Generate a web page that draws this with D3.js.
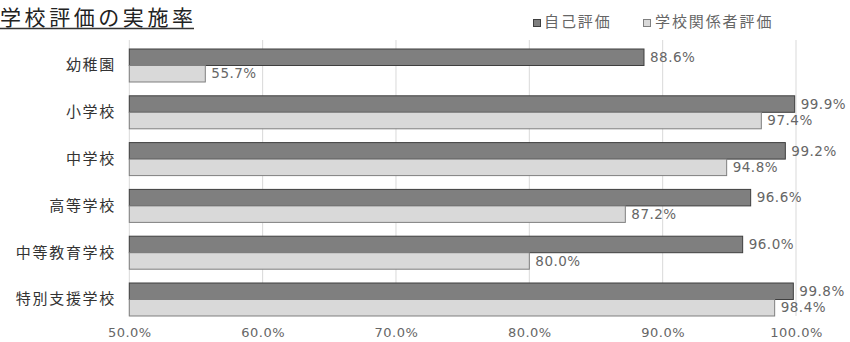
<!DOCTYPE html>
<html><head><meta charset="utf-8">
<script src="https://cdn.jsdelivr.net/npm/d3@7"></script>
<style>body{margin:0;background:#fff;}svg{display:block;}</style>
</head><body><svg id="c" width="850" height="342"></svg>
<script>
const categories = ["幼稚園","小学校","中学校","高等学校","中等教育学校","特別支援学校"];
const selfEval = [88.6, 99.9, 99.2, 96.6, 96.0, 99.8];
const stakeEval = [55.7, 97.4, 94.8, 87.2, 80.0, 98.4];
const seriesNames = ["自己評価","学校関係者評価"];
const xTicks = [50,60,70,80,90,100];

const svg = d3.select("#c");
const jp = "'Noto Sans CJK JP','Noto Sans CJK SC',sans-serif";
const num = "'DejaVu Sans','Noto Sans',sans-serif";

const x = d3.scaleLinear().domain([50,100]).range([129.3,796]);
const y = d3.scaleBand().domain(categories).range([42.1,322.9]).paddingInner(0.295).paddingOuter(0.1475);
const sub = d3.scaleBand().domain([0,1]).range([0,y.bandwidth()]);

// gridlines
svg.append("g").selectAll("line").data(xTicks).join("line")
  .attr("x1",d=>x(d)).attr("x2",d=>x(d)).attr("y1",40).attr("y2",316)
  .attr("stroke","#d9d9d9").attr("stroke-width",1);

// axis labels
const xAxis = d3.axisBottom(x).tickValues(xTicks).tickSize(0).tickFormat(d=>d.toFixed(1)+"%");
const ga = svg.append("g").call(xAxis);
ga.select(".domain").remove();
ga.selectAll("text").attr("font-family",num).attr("font-size",13).attr("letter-spacing",0.5)
  .attr("fill","#666").attr("y",333).attr("dy","0.32em");

const series = [
  {vals:selfEval, fill:"#7f7f7f", stroke:"#3f3f3f"},
  {vals:stakeEval, fill:"#d9d9d9", stroke:"#7f7f7f"}
];
series.forEach((s,si)=>{
  const g = svg.append("g");
  g.selectAll("rect").data(categories).join("rect")
    .attr("x",x(50)).attr("y",(d)=>y(d)+sub(si))
    .attr("width",(d,i)=>x(s.vals[i])-x(50)).attr("height",sub.bandwidth())
    .attr("fill",s.fill).attr("stroke",s.stroke).attr("stroke-width",1);
  g.selectAll("text").data(categories).join("text")
    .attr("x",(d,i)=>x(s.vals[i])+6).attr("y",(d)=>y(d)+sub(si)+sub.bandwidth()/2)
    .attr("dy","0.35em").attr("font-family",num).attr("font-size",13.5).attr("letter-spacing",0.5)
    .attr("fill","#666")
    .text((d,i)=>s.vals[i].toFixed(1)+"%");
});

// category labels
const yAxis = d3.axisLeft(y).tickSize(0);
const gy = svg.append("g").attr("transform","translate(116,0)").call(yAxis);
gy.select(".domain").remove();
gy.selectAll("text").attr("font-family",jp).attr("font-size",15).attr("letter-spacing",1.7)
  .attr("fill","#333").attr("x",0);

// title
svg.append("text").attr("x",0).attr("y",25).attr("font-family",jp).attr("font-size",21)
  .attr("fill","#222").attr("textLength",193).text("学校評価の実施率");
svg.append("line").attr("x1",0).attr("x2",194).attr("y1",28.5).attr("y2",28.5).attr("stroke","#333").attr("stroke-width",1.5);

// legend
const lg = [{x:533, tx:544},{x:643, tx:655}];
seriesNames.forEach((n,i)=>{
  svg.append("rect").attr("x",lg[i].x+0.5).attr("y",19.5).attr("width",7).attr("height",7)
    .attr("fill",series[i].fill).attr("stroke",series[i].stroke);
  svg.append("text").attr("x",lg[i].tx).attr("y",22).attr("dy","0.35em").attr("font-family",jp)
    .attr("font-size",15).attr("letter-spacing",1.9).attr("fill","#666").text(n);
});
</script></body></html>
